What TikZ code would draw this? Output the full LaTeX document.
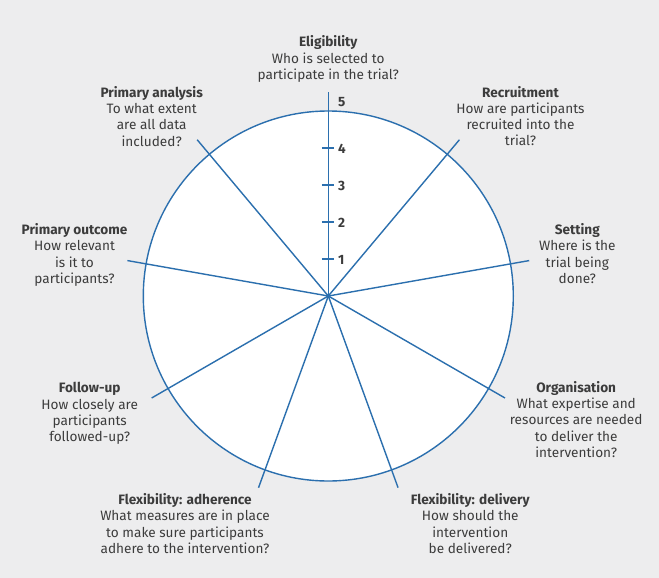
\documentclass[tikz,border=0pt]{standalone}
\usepackage{fontspec}
\setmainfont{Fira Sans}
\usetikzlibrary{calc}
\definecolor{bg}{HTML}{EDEDEE}
\definecolor{wheel}{HTML}{2B6FAE}
\definecolor{txt}{HTML}{3C3C3C}
\begin{document}
\begin{tikzpicture}[x=1pt,y=1pt,
  spoke/.style={draw=wheel,line width=1.4pt},
  lab/.style={align=center,text=txt,font=\fontsize{13.6}{16.3}\selectfont,inner sep=0pt,anchor=base},
  num/.style={text=txt,font=\bfseries\fontsize{13.5}{15}\selectfont,inner sep=0pt,anchor=base west}]
\fill[bg] (0,0) rectangle (659,-578);
\useasboundingbox (0,0) rectangle (659,-578);
\coordinate (c) at (328.3,-296);
\node[circle, draw=wheel, fill=white, line width=1.4pt, minimum size=370pt, inner sep=0pt] (wheel) at (c) {};
\foreach \a/\n in {90/e1,50/e2,10/e3,-30/e4,-70/e5,-110/e6,-150/e7,170/e8,130/e9}{
  \coordinate (\n) at ($(c)+(\a:204)$);
  \draw[spoke] (c) -- (\n);
}
\foreach \k in {1,...,4}{
  \coordinate (tl\k) at ($(c)+(-6.5,37*\k)$);
  \coordinate (tr\k) at ($(c)+(6,37*\k)$);
  \draw[spoke] (tl\k) -- (tr\k);
  \node[num] (n\k) at ($(c)+(9.5,37*\k-5)$) {\k};
}
\node[num] (n5) at (337.8,-106.8) {5};
\fill[wheel] (c) circle (2pt);
\node[lab] (elig) at (328.3,-79.3) {\textbf{Eligibility}\\Who is selected to\\participate in the trial?};
\node[lab] (recr) at (520.5,-145.9) {\textbf{Recruitment}\\How are participants\\recruited into the\\trial?};
\node[lab] (sett) at (577.3,-283.4) {\textbf{Setting}\\Where is the\\trial being\\done?};
\node[lab] (orga) at (576.2,-457.4) {\textbf{Organisation}\\What expertise and\\resources are needed\\to deliver the\\intervention?};
\node[lab] (fdel) at (470.3,-553.4) {\textbf{Flexibility: delivery}\\How should the\\intervention\\be delivered?};
\node[lab] (fadh) at (185,-553.4) {\textbf{Flexibility: adherence}\\What measures are in place\\to make sure participants\\adhere to the intervention?};
\node[lab] (foll) at (89.7,-441.7) {\textbf{Follow-up}\\How closely are\\participants\\followed-up?};
\node[lab] (pout) at (74.5,-283.4) {\textbf{Primary outcome}\\How relevant\\is it to\\participants?};
\node[lab] (pana) at (151.7,-146.1) {\textbf{Primary analysis}\\To what extent\\are all data\\included?};
\end{tikzpicture}
\end{document}
